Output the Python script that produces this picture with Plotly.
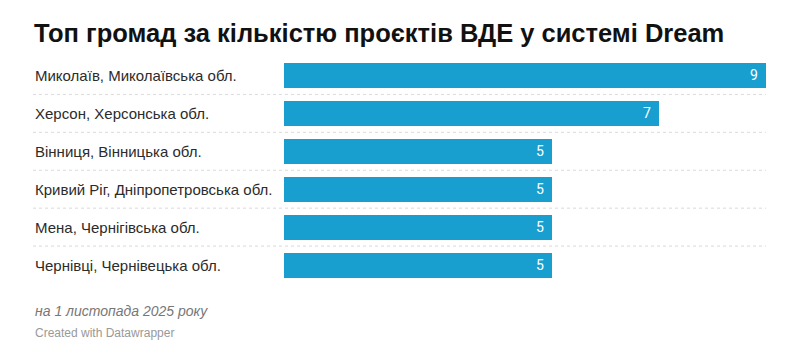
import plotly.graph_objects as go

# Communities and number of renewable-energy projects in the Dream system
communities = [
    "Миколаїв, Миколаївська обл.",
    "Херсон, Херсонська обл.",
    "Вінниця, Вінницька обл.",
    "Кривий Ріг, Дніпропетровська обл.",
    "Мена, Чернігівська обл.",
    "Чернівці, Чернівецька обл.",
]
projects = [9, 7, 5, 5, 5, 5]

title_text = "Топ громад за кількістю проєктів ВДЕ у системі Dream"
note_text = "на 1 листопада 2025 року"
credit_text = "Created with Datawrapper"

W, H = 800, 349
BAR_COLOR = "#189fcf"
FONT = "Liberation Sans, Arial, sans-serif"

def px_x(x):
    return x / W

def px_y(y):
    return 1 - y / H

idx = list(range(len(communities)))

fig = go.Figure(
    go.Bar(
        x=projects,
        y=idx,
        orientation="h",
        marker=dict(color=BAR_COLOR, line=dict(width=0)),
        width=0.66,
        cliponaxis=False,
        hoverinfo="skip",
    )
)

annotations = []
for i, (name, value) in enumerate(zip(communities, projects)):
    # row label on the left
    annotations.append(dict(
        x=px_x(33), xref="paper", y=i, yref="y",
        text=name, showarrow=False, xanchor="left", yanchor="middle",
        font=dict(size=15, color="#2b2b2b", family=FONT),
    ))
    # value label inside the bar end
    annotations.append(dict(
        x=value, xref="x", y=i, yref="y", xshift=-6,
        text=str(value), showarrow=False, xanchor="right", yanchor="middle",
        font=dict(size=14, color="white", family="Roboto, sans-serif"),
    ))

annotations += [
    dict(x=px_x(32), y=px_y(33), xref="paper", yref="paper", text=f"<b>{title_text}</b>",
         showarrow=False, xanchor="left", yanchor="middle",
         font=dict(size=25.5, color="#111111", family=FONT)),
    dict(x=px_x(33), y=px_y(311), xref="paper", yref="paper", text=f"<i>{note_text}</i>",
         showarrow=False, xanchor="left", yanchor="middle",
         font=dict(size=14, color="#777777", family=FONT)),
    dict(x=px_x(33), y=px_y(333), xref="paper", yref="paper", text=credit_text,
         showarrow=False, xanchor="left", yanchor="middle",
         font=dict(size=12, color="#999999", family=FONT)),
]

# dotted row separators between categories
shapes = []
for i in range(len(communities) - 1):
    shapes.append(dict(
        type="line", xref="paper", yref="y",
        x0=px_x(33), x1=px_x(766), y0=i + 0.5, y1=i + 0.5,
        line=dict(color="#dadada", width=1, dash="dot"),
    ))

fig.update_layout(
    width=W, height=H,
    margin=dict(l=0, r=0, t=0, b=0),
    paper_bgcolor="white", plot_bgcolor="white",
    showlegend=False,
    xaxis=dict(domain=[px_x(284), px_x(766)], range=[0, 9], visible=False, fixedrange=True),
    yaxis=dict(domain=[px_y(284), px_y(56.5)], range=[5.5, -0.5], visible=False, fixedrange=True),
    annotations=annotations,
    shapes=shapes,
    bargap=0,
)

fig.write_html("out.html")
